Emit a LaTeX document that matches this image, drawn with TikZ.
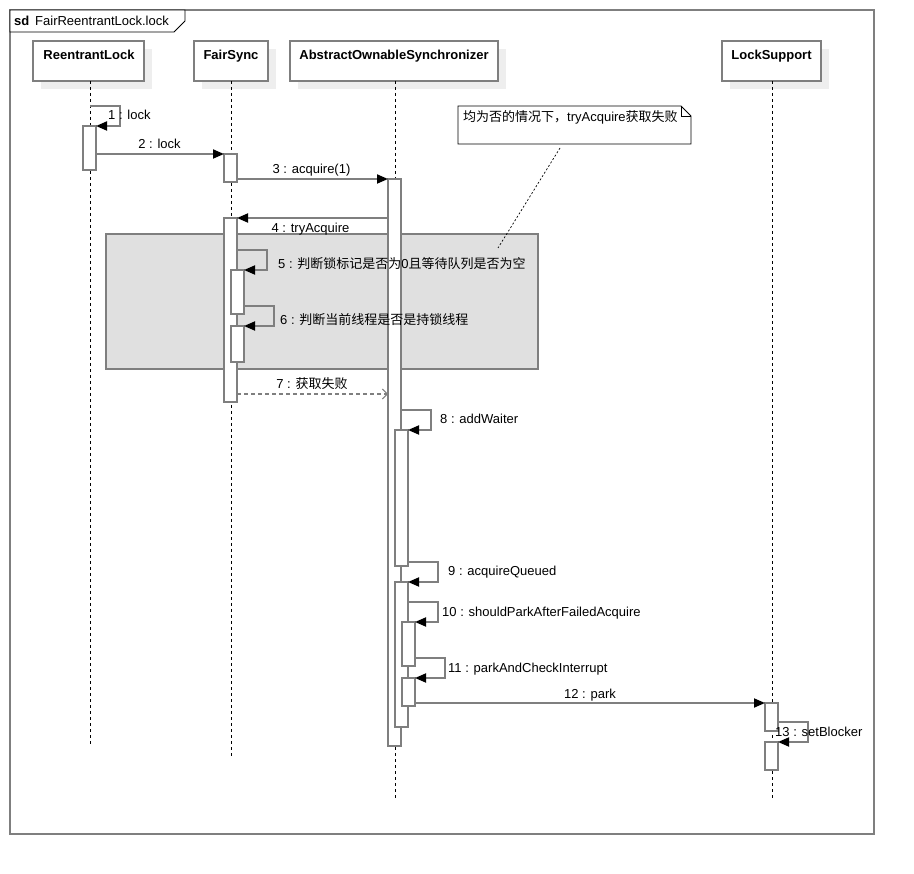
\documentclass[tikz,border=0pt]{standalone}
\usepackage{fontspec}
\setmainfont{Liberation Sans}
\newfontfamily\cjk{Noto Sans CJK SC}
\usetikzlibrary{arrows.meta}
\definecolor{lg}{HTML}{7F7F7F}
\definecolor{shadowc}{HTML}{EEEEEE}
\definecolor{fragc}{HTML}{E0E0E0}
\tikzset{
  headbox/.style={draw=lg, line width=1.8pt, fill=white, inner sep=0, outer sep=0, anchor=north west},
  headtxt/.style={font=\fontsize{13}{15}\selectfont\bfseries, inner sep=0, text height=13pt, text depth=2pt},
  life/.style={draw=black, line width=0.8pt, dash pattern=on 3pt off 3pt},
  bar/.style={draw=lg, line width=1.8pt, fill=white, inner sep=0, outer sep=0, minimum width=13pt, anchor=north west},
  msg/.style={draw=lg, line width=1.8pt, -{Triangle[length=11pt,width=9pt,color=black]}},
  ret/.style={draw=lg, line width=1.3pt, dash pattern=on 4pt off 3pt, -{Straight Barb[length=5pt,width=10pt,line width=1pt]}},
  lbl/.style={font=\fontsize{13}{15}\selectfont, inner sep=0, text height=13pt, text depth=2pt},
}
\begin{document}
\begin{tikzpicture}[x=1pt,y=-1pt]
\useasboundingbox[fill=white] (0,0) rectangle (914,874);

% frame
\draw[lg, line width=1.8pt] (10,10) rectangle (874,834);
\draw[black, line width=0.8pt, fill=white] (10,10) -- (185,10) -- (185,21) -- (174,32) -- (10,32) -- cycle;
\node[lbl, font=\fontsize{13}{15}\selectfont\bfseries, anchor=west] (sd) at (14,20.5) {sd};
\node[lbl, anchor=west] (title) at (35,20.5) {FairReentrantLock.lock};

% head shadows
\fill[shadowc] (41,49) rectangle (152,89);
\fill[shadowc] (202,49) rectangle (276,89);
\fill[shadowc] (298,49) rectangle (506,89);
\fill[shadowc] (730,49) rectangle (829,89);

% heads
\node[headbox, minimum width=111pt, minimum height=40pt] (rl) at (33,41) {};
\node[headbox, minimum width=74pt, minimum height=40pt] (fs) at (194,41) {};
\node[headbox, minimum width=208pt, minimum height=40pt] (aos) at (290,41) {};
\node[headbox, minimum width=99pt, minimum height=40pt] (ls) at (722,41) {};
\node[headtxt] (rlt) at (89,54.5) {ReentrantLock};
\node[headtxt] (fst) at (231,54.5) {FairSync};
\node[headtxt] (aost) at (394,54.5) {AbstractOwnableSynchronizer};
\node[headtxt] (lst) at (771.5,54.5) {LockSupport};

% lifelines
\coordinate (rlend) at (90,745);
\coordinate (fsend) at (231,757);
\coordinate (aosend) at (395,800);
\coordinate (lsend) at (772,800);
\draw[life] (rlend |- rl.south) -- (rlend);
\draw[life] (fsend |- fs.south) -- (fsend);
\draw[life] (aosend |- aos.south) -- (aosend);
\draw[life] (lsend |- ls.south) -- (lsend);

% combined fragment area
\draw[lg, line width=1.8pt, fill=fragc] (106,234) rectangle (538,369);

% note
\draw[black, line width=0.8pt, fill=white] (458,106) -- (681,106) -- (691,116) -- (691,144) -- (458,144) -- cycle;
\draw[black, line width=0.8pt] (681,106) -- (681,116) -- (691,116);
\node[lbl, anchor=west] (note) at (463,116.5) {{\cjk 均为否的情况下，}tryAcquire{\cjk 获取失败}};
\coordinate (n1) at (560,148);
\coordinate (n2) at (498,248);
\draw[black, line width=0.7pt, dash pattern=on 2pt off 2pt] (n1) -- (n2);

% activation bars
\node[bar, minimum height=44pt] (a1) at (83,126) {};
\node[bar, minimum height=28pt] (a2) at (224,154) {};
\node[bar, minimum height=567pt] (a3) at (388,179) {};
\node[bar, minimum height=184pt] (a4) at (224,218) {};
\node[bar, minimum height=44pt] (a5) at (231,270) {};
\node[bar, minimum height=36pt] (a6) at (231,326) {};
\node[bar, minimum height=136pt] (a7) at (395,430) {};
\node[bar, minimum height=145pt] (a8) at (395,582) {};
\node[bar, minimum height=44pt] (a9) at (402,622) {};
\node[bar, minimum height=28pt] (a10) at (402,678) {};
\node[bar, minimum height=28pt] (a11) at (765,703) {};
\node[bar, minimum height=28pt] (a12) at (765,742) {};

% messages
\coordinate (c1) at (90,106);
\draw[msg] (c1) -- ++(30,0) -- ++(0,20) -- (a1.north east);
\draw[msg] (a1.east |- a2.north) -- (a2.north west);
\draw[msg] (a2.east |- a3.north) -- (a3.north west);
\draw[msg] (a3.west |- a4.north) -- (a4.north east);
\draw[msg] (a4.east |- 0,250) -- ++(30,0) -- ++(0,20) -- (a5.north east);
\draw[msg] (a5.east |- 0,306) -- ++(30,0) -- ++(0,20) -- (a6.north east);
\draw[ret] (a4.east |- 0,394) -- (a3.west |- 0,394);
\draw[msg] (a3.east |- 0,410) -- ++(30,0) -- ++(0,20) -- (a7.north east);
\draw[msg] (a7.east |- 0,562) -- ++(30,0) -- ++(0,20) -- (a8.north east);
\draw[msg] (a8.east |- 0,602) -- ++(30,0) -- ++(0,20) -- (a9.north east);
\draw[msg] (a9.east |- 0,658) -- ++(30,0) -- ++(0,20) -- (a10.north east);
\draw[msg] (a10.east |- a11.north) -- (a11.north west);
\draw[msg] (a11.east |- 0,722) -- ++(30,0) -- ++(0,20) -- (a12.north east);

% labels
\node[lbl, anchor=west] (m1) at (108,114.5) {1 : lock};
\node[lbl] (m2) at (159.5,143.5) {2 : lock};
\node[lbl] (m3) at (311.5,168.5) {3 : acquire(1)};
\node[lbl] (m4) at (310.5,227.5) {4 : tryAcquire};
\node[lbl, anchor=west] (m5) at (278,263.5) {5 : {\cjk 判断锁标记是否为}0{\cjk 且等待队列是否为空}};
\node[lbl, anchor=west] (m6) at (280,319.5) {6 : {\cjk 判断当前线程是否是持锁线程}};
\node[lbl] (m7) at (312,383.5) {7 : {\cjk 获取失败}};
\node[lbl, anchor=west] (m8) at (440,418.5) {8 : addWaiter};
\node[lbl, anchor=west] (m9) at (448,570.5) {9 : acquireQueued};
\node[lbl, anchor=west] (m10) at (442,610.5) {10 : shouldParkAfterFailedAcquire};
\node[lbl, anchor=west] (m11) at (448,666.5) {11 : parkAndCheckInterrupt};
\node[lbl] (m12) at (590,692.5) {12 : park};
\node[lbl, anchor=west] (m13) at (775,730.5) {13 : setBlocker};
\end{tikzpicture}
\end{document}
